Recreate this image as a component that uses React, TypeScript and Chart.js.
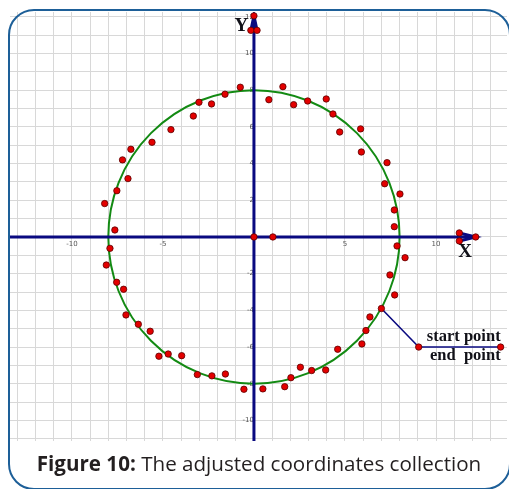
import React, { useEffect, useRef } from "react";
import { Chart, registerables } from "chart.js";

Chart.register(...registerables);

// Visible window of the coordinate plane
const X_MIN = -13.4;
const X_MAX = 13.9;
const Y_MIN = -11.12;
const Y_MAX = 12.26;
const X_LABEL_EVERY = 5;
const Y_LABEL_EVERY = 2;

// Fitted circle
const circleCenterX = 0;
const circleCenterY = 0;
const circleRadius = 8;

// Collected coordinates (x, y)
const sampleX = [
  -0.75, -1.59, -3.02, -2.33, -3.33, -4.56, -5.6, -6.76, -7.22, -6.92, -7.53, -8.2, -7.64,
  -7.91, -8.11, -7.54, -7.16, -7.03, -6.35, -5.7, -5.22, -4.71, -3.97, -3.11, -2.31, -1.57, -0.55,
  0.82, 1.59, 2.18, 2.95, 3.97, 4.34, 4.71, 5.86, 5.9, 7.31, 7.18, 8.02, 7.71, 7.71,
  7.86, 8.3, 7.47, 7.73, 6.37, 6.15, 5.93, 4.6, 3.94, 3.17, 2.55, 2.03, 1.69, 0.49,
  0, 1.04,
];
const sampleY = [
  8.16, 7.78, 7.34, 7.25, 6.59, 5.85, 5.16, 4.78, 4.2, 3.18, 2.52, 1.82, 0.38,
  -0.62, -1.53, -2.47, -2.85, -4.25, -4.76, -5.14, -6.5, -6.38, -6.47, -7.5, -7.57, -7.47, -8.3,
  7.48, 8.19, 7.21, 7.41, 7.52, 6.7, 5.72, 5.89, 4.63, 4.05, 2.9, 2.34, 1.47, 0.56,
  -0.49, -1.13, -2.07, -3.16, -4.36, -5.1, -5.83, -6.12, -7.25, -7.28, -7.1, -7.67, -8.16, -8.28,
  0, 0,
];

// Axis lines and arrow heads
const xAxisX = [X_MIN, 12.18];
const xAxisY = [0, 0];
const yAxisX = [0, 0];
const yAxisY = [Y_MIN, 12.05];
const xArrowX = [11.28, 12.18, 11.28];
const xArrowY = [0.22, 0, -0.22];
const yArrowX = [-0.17, 0, 0.17];
const yArrowY = [11.26, 12.05, 11.26];

// Start point on the circle, then the leader to the label
const leaderX = [7.0, 9.05, 13.55];
const leaderY = [-3.9, -6.0, -6.0];

// Text placed in plane coordinates
const planeLabels = [
  { text: "Y", x: -0.69, y: 11.5, align: "center", size: 19 },
  { text: "X", x: 11.6, y: -0.84, align: "center", size: 19 },
  { text: "start point", x: 13.55, y: -5.45, align: "right", size: 16.5 },
  { text: "end  point", x: 13.55, y: -6.5, align: "right", size: 16.5 },
];

const CAPTION_BOLD = "Figure 10:";
const CAPTION_TEXT = " The adjusted coordinates collection";

const NAVY = "#0a0a80";
const POINT_FILL = "#e30000";
const POINT_EDGE = "#5a0000";

const zip = (xs: number[], ys: number[]) => xs.map((x, i) => ({ x, y: ys[i] }));

// Scales sit on the axes inside the plot, so they need no edge padding.
const noEdgePadding = (scale: any) => {
  scale.paddingTop = 0;
  scale.paddingBottom = 0;
  scale.paddingLeft = 0;
  scale.paddingRight = 0;
};

const circlePlugin = {
  id: "fittedCircle",
  beforeDatasetsDraw(chart: any) {
    const xs = chart.scales.x;
    const ys = chart.scales.y;
    const cx = xs.getPixelForValue(circleCenterX);
    const cy = ys.getPixelForValue(circleCenterY);
    const rx = Math.abs(xs.getPixelForValue(circleCenterX + circleRadius) - cx);
    const ry = Math.abs(ys.getPixelForValue(circleCenterY + circleRadius) - cy);
    const ctx = chart.ctx;
    ctx.save();
    ctx.beginPath();
    ctx.ellipse(cx, cy, rx, ry, 0, 0, Math.PI * 2);
    ctx.strokeStyle = "#138a13";
    ctx.lineWidth = 2;
    ctx.stroke();
    ctx.restore();
  },
};

const labelPlugin = {
  id: "planeLabels",
  afterDatasetsDraw(chart: any) {
    const xs = chart.scales.x;
    const ys = chart.scales.y;
    const ctx = chart.ctx;
    ctx.save();
    ctx.fillStyle = "#111118";
    ctx.textBaseline = "middle";
    for (const l of planeLabels) {
      ctx.font = `bold ${l.size}px "Liberation Serif", "Times New Roman", serif`;
      ctx.textAlign = l.align as CanvasTextAlign;
      ctx.fillText(l.text, xs.getPixelForValue(l.x), ys.getPixelForValue(l.y));
    }
    ctx.restore();
  },
};

export default function App() {
  const canvasRef = useRef<HTMLCanvasElement | null>(null);

  useEffect(() => {
    if (!canvasRef.current) return;
    const pointStyle = {
      pointRadius: 3.2,
      pointBackgroundColor: POINT_FILL,
      pointBorderColor: POINT_EDGE,
      pointBorderWidth: 0.8,
    };
    const chart = new Chart(canvasRef.current, {
      type: "scatter",
      data: {
        datasets: [
          {
            label: "samples",
            data: zip(sampleX, sampleY),
            showLine: false,
            order: 0,
            ...pointStyle,
          },
          {
            label: "leader",
            data: zip(leaderX, leaderY),
            showLine: true,
            borderColor: NAVY,
            borderWidth: 1.6,
            order: 1,
            ...pointStyle,
          },
          {
            label: "x arrow",
            data: zip(xArrowX, xArrowY),
            showLine: true,
            borderColor: NAVY,
            borderWidth: 3,
            order: 1,
            ...pointStyle,
          },
          {
            label: "y arrow",
            data: zip(yArrowX, yArrowY),
            showLine: true,
            borderColor: NAVY,
            borderWidth: 3,
            order: 1,
            ...pointStyle,
          },
          {
            label: "x axis",
            data: zip(xAxisX, xAxisY),
            showLine: true,
            borderColor: NAVY,
            borderWidth: 3,
            pointRadius: 0,
            order: 2,
          },
          {
            label: "y axis",
            data: zip(yAxisX, yAxisY),
            showLine: true,
            borderColor: NAVY,
            borderWidth: 3,
            pointRadius: 0,
            order: 2,
          },
        ],
      },
      options: {
        animation: false,
        responsive: false,
        devicePixelRatio: 1,
        layout: { padding: 0, autoPadding: false } as any,
        plugins: {
          legend: { display: false },
          tooltip: { enabled: false },
        },
        scales: {
          x: {
            type: "linear",
            position: { y: 0 } as any,
            min: X_MIN,
            max: X_MAX,
            afterFit: noEdgePadding,
            grid: { color: "#d8d8d8", lineWidth: 1, drawTicks: false },
            border: { display: false },
            ticks: {
              stepSize: 1,
              includeBounds: false,
              autoSkip: false,
              maxRotation: 0,
              padding: 3,
              color: "#555",
              font: { size: 7, family: "DejaVu Sans" },
              callback: (v: any) => {
                const n = Number(v);
                return n !== 0 && n % X_LABEL_EVERY === 0 ? String(n) : "";
              },
            },
          },
          y: {
            type: "linear",
            position: { x: 0 } as any,
            min: Y_MIN,
            max: Y_MAX,
            afterFit: noEdgePadding,
            grid: { color: "#d8d8d8", lineWidth: 1, drawTicks: false },
            border: { display: false },
            ticks: {
              stepSize: 1,
              includeBounds: false,
              autoSkip: false,
              padding: 3,
              color: "#555",
              font: { size: 7, family: "DejaVu Sans" },
              callback: (v: any) => {
                const n = Number(v);
                return n !== 0 && n % Y_LABEL_EVERY === 0 ? String(n) : "";
              },
            },
          },
        },
      },
      plugins: [circlePlugin, labelPlugin],
    });
    return () => chart.destroy();
  }, []);

  return (
    <div
      style={{
        position: "fixed",
        left: 0,
        top: 0,
        width: 509,
        height: 489,
        background: "#fff",
        overflow: "hidden",
      }}
    >
      <canvas
        ref={canvasRef}
        width={497}
        height={429}
        style={{ position: "absolute", left: 10, top: 12, width: 497, height: 429 }}
      />
      <div
        style={{
          position: "absolute",
          left: 8,
          top: 9,
          width: 503,
          height: 481,
          boxSizing: "border-box",
          border: "2px solid #1d5f98",
          borderRadius: 26,
          pointerEvents: "none",
        }}
      />
      <div
        style={{
          position: "absolute",
          left: 9,
          width: 500,
          top: 449,
          textAlign: "center",
          fontFamily: '"Open Sans", sans-serif',
          fontSize: 20.6,
          lineHeight: "28px",
          color: "#231f20",
          whiteSpace: "nowrap",
        }}
      >
        <b>{CAPTION_BOLD}</b>
        {CAPTION_TEXT}
      </div>
    </div>
  );
}
